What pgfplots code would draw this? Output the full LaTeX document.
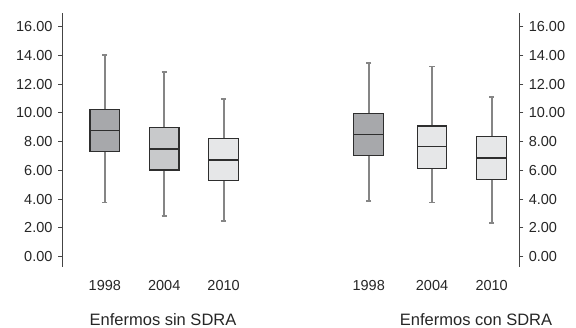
\documentclass[border=0pt]{standalone}
\usepackage{pgfplots}
\pgfplotsset{compat=1.18}
\usepgfplotslibrary{statistics}
\usepackage{fontspec}
\setmainfont{Liberation Sans}
\definecolor{gdark}{HTML}{A7A8AB}
\definecolor{gmid}{HTML}{C8C9CB}
\definecolor{glight}{HTML}{E6E7E8}
\definecolor{boxc}{HTML}{2E2E2E}
\definecolor{whisc}{HTML}{858585}
\definecolor{axc}{HTML}{444444}
\pgfplotsset{
  panel/.style={
    scale only axis,
    height=254pt,
    ymin=-0.7, ymax=16.97,
    ytick={0,2,...,16},
    xtick={1,2,3},
    xticklabels={1998,2004,2010},
    /pgf/number format/assume math mode=true,
    yticklabel style={/pgf/number format/fixed, /pgf/number format/fixed zerofill, /pgf/number format/precision=2},
    tick label style={font=\fontsize{14.5}{17}\selectfont, text=black!85},
    axis x line*=bottom,
    x axis line style={draw=none},
    y axis line style={-, draw=axc, line width=0.8pt},
    tick align=outside,
    major tick length=4pt,
    x tick style={draw=none},
    y tick style={draw=axc, line width=0.8pt},
    xticklabel style={anchor=base, yshift=-20pt},
    xlabel style={font=\fontsize{16.5}{19}\selectfont, text=black!85, anchor=base},
    boxplot/draw direction=y,
    boxplot/every box/.style={draw=boxc, line width=1.2pt},
    boxplot/every whisker/.style={draw=whisc, line width=1.8pt},
    boxplot/every median/.style={draw=boxc, line width=1.4pt},
    boxplot/box extend=0.5,
    boxplot/whisker extend=0.09,
  }
}
\begin{document}
\begin{tikzpicture}
\useasboundingbox (0pt,0pt) rectangle (576pt,328pt);
% Left panel
\begin{axis}[panel,
  at={(62pt,61.3pt)}, anchor=south west,
  width=191.3pt,
  xmin=0.279, xmax=3.5,
  axis y line*=left,
  yticklabel style={xshift=-2pt},
  xlabel={Enfermos sin SDRA},
  xlabel style={at={(rel axis cs:0.528,0)}, yshift=-59pt},
]
\addplot[fill=gdark, boxplot/draw direction=y, boxplot prepared={median=8.79, upper quartile=10.25, lower quartile=7.30, upper whisker=14.05, lower whisker=3.76, draw position=1}] coordinates {};
\addplot[fill=gmid, boxplot/draw direction=y, boxplot prepared={median=7.49, upper quartile=8.97, lower quartile=6.03, upper whisker=12.83, lower whisker=2.83, draw position=2}] coordinates {};
\addplot[fill=glight, boxplot/draw direction=y, boxplot prepared={median=6.73, upper quartile=8.24, lower quartile=5.27, upper whisker=10.99, lower whisker=2.46, draw position=3}] coordinates {};
\end{axis}
% Right panel
\begin{axis}[panel,
  at={(339pt,61.3pt)}, anchor=south west,
  width=180.3pt,
  xmin=0.5, xmax=3.535,
  axis y line*=right,
  xtick={1,2.066,3.07},
  yticklabel style={xshift=2pt},
  xlabel={Enfermos con SDRA},
  xlabel style={at={(rel axis cs:0.76,0)}, yshift=-59pt},
]
\addplot[fill=gdark, boxplot/draw direction=y, boxplot prepared={median=8.51, upper quartile=9.97, lower quartile=7.05, upper whisker=13.45, lower whisker=3.87, draw position=1}] coordinates {};
\addplot[fill=glight, boxplot/draw direction=y, boxplot prepared={median=7.65, upper quartile=9.09, lower quartile=6.15, upper whisker=13.22, lower whisker=3.76, draw position=2.066}] coordinates {};
\addplot[fill=glight, boxplot/draw direction=y, boxplot prepared={median=6.87, upper quartile=8.35, lower quartile=5.38, upper whisker=11.13, lower whisker=2.32, draw position=3.07}] coordinates {};
\end{axis}
\end{tikzpicture}
\end{document}
